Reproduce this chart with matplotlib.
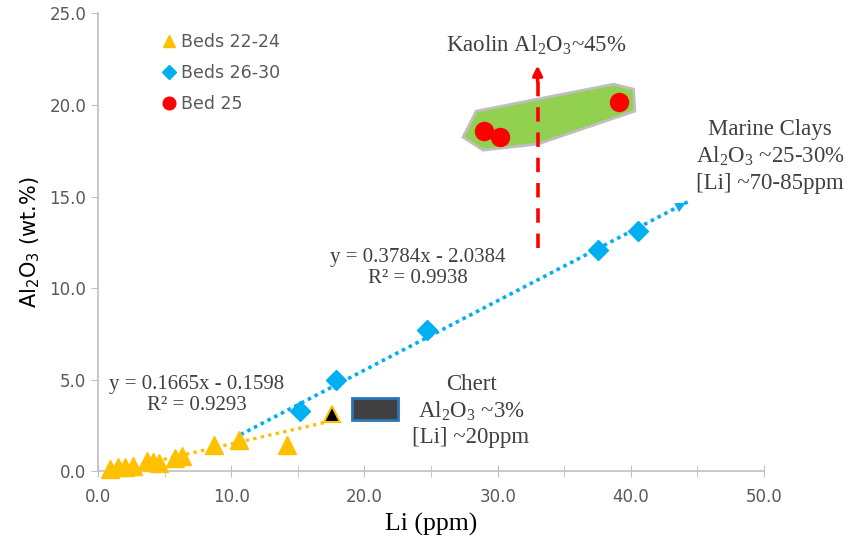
import numpy as np
import matplotlib.pyplot as plt
from matplotlib.patches import Polygon, Rectangle

# Beds 22-24
li_22 = [0.9, 1.5, 2.0, 2.6, 3.7, 4.1, 4.6, 5.8, 6.3, 8.7, 10.6, 14.2]
al_22 = [0.15, 0.25, 0.25, 0.3, 0.55, 0.5, 0.45, 0.75, 0.85, 1.45, 1.7, 1.45]
# Beds 26-30
li_26 = [15.2, 17.9, 24.7, 37.5, 40.5]
al_26 = [3.3, 5.0, 7.7, 12.1, 13.1]
# Bed 25
li_25 = [29.0, 30.2, 39.1]
al_25 = [18.55, 18.25, 20.15]
# black triangle (chert-like sample)
li_chert_pt = [17.6]
al_chert_pt = [3.15]

# trendline fits
fit_22 = (0.1665, -0.1598)
fit_26 = (0.3784, -2.0384)
fit_22_range = (1.0, 17.3)
fit_26_range = (10.7, 44.3)

# Bed 25 envelope
hull_li = [28.4, 38.7, 40.2, 40.3, 33.0, 28.9, 27.4]
hull_al = [19.66, 21.13, 20.86, 19.66, 17.86, 17.53, 18.24]

# kaolin arrow
kaolin_li = 33.0
kaolin_al = (12.2, 22.3)

# chert box
chert_box = (19.1, 2.8, 3.4, 1.2)

gray = '#404040'
tick_gray = '#595959'
serif = ['Liberation Serif', 'DejaVu Serif']
sub2 = r'$_\mathregular{2}$'
sub3 = r'$_\mathregular{3}$'

fig = plt.figure(figsize=(8.49, 5.51), dpi=100)
ax = fig.add_axes([0.1154, 0.1443, 0.7846, 0.8317])

# trendlines
x = np.linspace(*fit_22_range, 50)
ax.plot(x, fit_22[0] * x + fit_22[1], color='#FFC000', lw=2.4,
        linestyle=(0, (1, 1.3)), zorder=2)
x = np.linspace(*fit_26_range, 50)
ax.plot(x, fit_26[0] * x + fit_26[1], color='#00B0F0', lw=2.6,
        linestyle=(0, (1, 1.1)), zorder=2)
ax.annotate('', xy=(x[-1], fit_26[0] * x[-1] + fit_26[1]),
            xytext=(x[-3], fit_26[0] * x[-3] + fit_26[1]),
            arrowprops=dict(arrowstyle='-|>', color='#00B0F0', lw=0.1,
                            mutation_scale=18), zorder=2)

# Bed 25 envelope
ax.add_patch(Polygon(np.column_stack([hull_li, hull_al]), closed=True,
                     facecolor='#92D050', edgecolor='#BFBFBF', lw=2, zorder=1))

# kaolin dashed arrow
ax.plot([kaolin_li, kaolin_li], [kaolin_al[0], kaolin_al[1] - 1.0], color='#FF0000',
        lw=2.6, linestyle=(0, (4, 3)), zorder=3)
ax.annotate('', xy=(kaolin_li, kaolin_al[1]), xytext=(kaolin_li, kaolin_al[1] - 1.2),
            arrowprops=dict(arrowstyle='-|>', color='#FF0000', lw=2.5,
                            mutation_scale=14), zorder=3)

# chert box
ax.add_patch(Rectangle(chert_box[:2], chert_box[2], chert_box[3],
                       facecolor='#404040', edgecolor='#2E75B6', lw=2, zorder=3))

# points
ax.plot(li_22, al_22, '^', color='#FFC000', ms=13, mec='#FFC000', ls='none',
        label='Beds 22-24', zorder=4, clip_on=False)
ax.plot(li_26, al_26, 'D', color='#00B0F0', ms=10, ls='none',
        label='Beds 26-30', zorder=4)
ax.plot(li_25, al_25, 'o', color='#FF0000', ms=13, ls='none',
        label='Bed 25', zorder=5)
ax.plot(li_chert_pt, al_chert_pt, '^', color='black', mec='#FFC000', mew=1.5,
        ms=11, ls='none', zorder=4)

# annotations
ax.text(7.4, 4.17, 'y = 0.1665x - 0.1598\nR² = 0.9293', ha='center', va='center',
        family=serif, fontsize=15, color=gray, linespacing=1.1)
ax.text(24.0, 11.1, 'y = 0.3784x - 2.0384\nR² = 0.9938', ha='center', va='center',
        family=serif, fontsize=15, color=gray, linespacing=1.1)
ax.text(28.0, 3.3, 'Chert\nAl' + sub2 + 'O' + sub3 + ' ~3%\n[Li] ~20ppm',
        ha='center', va='center', family=serif, fontsize=16.5, color=gray,
        linespacing=1.22)
ax.text(50.45, 17.2, 'Marine Clays\nAl' + sub2 + 'O' + sub3 + ' ~25-30%\n[Li] ~70-85ppm',
        ha='center', va='center', family=serif, fontsize=16.5, color=gray,
        linespacing=1.27, clip_on=False)
ax.text(32.9, 23.25, 'Kaolin Al' + sub2 + 'O' + sub3 + '~45%', ha='center',
        va='center', family=serif, fontsize=16.5, color=gray)

# axes
ax.set_xlim(0, 50)
ax.set_ylim(0, 25)
ax.set_xticks(np.arange(0, 51, 10))
ax.set_xticklabels([f'{v:.1f}' for v in np.arange(0, 51, 10)])
ax.set_xticks(np.arange(5, 50, 10), minor=True)
ax.set_yticks(np.arange(0, 26, 5))
ax.set_yticklabels([f'{v:.1f}' for v in np.arange(0, 26, 5)])
for s in ['top', 'right']:
    ax.spines[s].set_visible(False)
for s in ['left', 'bottom']:
    ax.spines[s].set_color('#BFBFBF')
    ax.spines[s].set_linewidth(1.2)
ax.tick_params(axis='x', which='both', direction='inout', length=8, color='#BFBFBF',
               labelsize=12, labelcolor=tick_gray, pad=8)
ax.tick_params(axis='y', direction='out', length=5, color='#BFBFBF',
               labelsize=12, labelcolor=tick_gray)
ax.set_xlabel('Li (ppm)', family=serif, fontsize=18.5, labelpad=5)
ax.set_ylabel('Al' + sub2 + 'O' + sub3 + ' (wt.%)', fontsize=15, labelpad=5)

leg = ax.legend(loc='upper left', bbox_to_anchor=(0.0675, 0.99), frameon=False,
                fontsize=12.5, labelcolor=tick_gray, markerscale=0.7,
                handletextpad=0.1, labelspacing=0.75, handlelength=1.2)

fig.savefig('out.png', dpi=100)
